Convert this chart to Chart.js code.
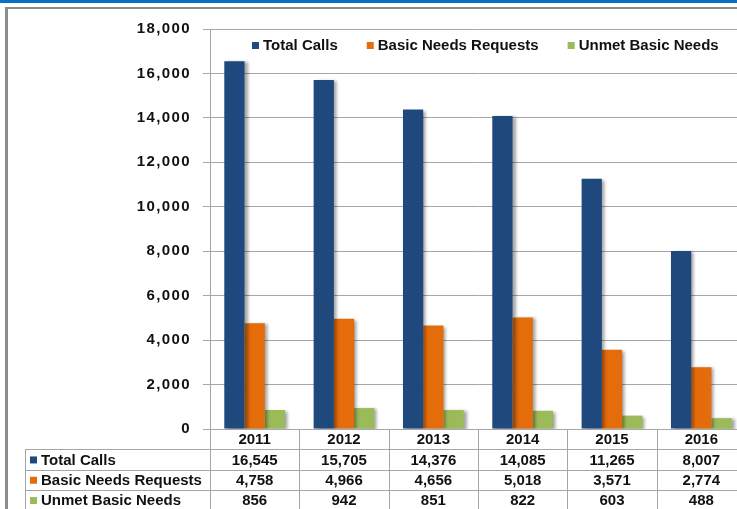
<!DOCTYPE html>
<html>
<head>
<meta charset="utf-8">
<script src="https://cdn.jsdelivr.net/npm/chart.js@4"></script>
<style>
  html, body { margin: 0; padding: 0; background: #fff; overflow: hidden; width: 737px; height: 509px; }
  #band { position: absolute; left: 0; top: 0; width: 737px; height: 3px; background: #0b6fc2; }
  #frame { position: absolute; left: 5px; top: 7px; width: 800px; height: 600px;
           border-left: 3px solid #8c8c8c; border-top: 2px solid #8c8c8c; }
  #wrap { position: absolute; left: 0; top: 0; }
</style>
</head>
<body>
<div id="band"></div>
<div id="frame"></div>
<div id="wrap"><canvas id="chart" width="760" height="509"></canvas></div>
<script>
const years = ['2011', '2012', '2013', '2014', '2015', '2016'];
const seriesNames = ['Total Calls', 'Basic Needs Requests', 'Unmet Basic Needs'];
const totalCalls = [16545, 15705, 14376, 14085, 11265, 8007];
const basicNeeds = [4758, 4966, 4656, 5018, 3571, 2774];
const unmetNeeds = [856, 942, 851, 822, 603, 488];
const seriesColors = ['#1f497d', '#e46c0a', '#9bbb59'];

const FONT = '"Liberation Sans", Arial, sans-serif';
const lineColor = '#a6a6a6';

var ctx = document.getElementById('chart').getContext('2d');

// legend + data table under the plot, placed from the x scale
const tablePlugin = {
  id: 'tablePlugin',
  beforeDraw: (chart) => {
    chart.ctx.letterSpacing = '1.4px';
  },
  beforeDatasetsDraw: (chart) => {
    const c = chart.ctx;
    c.letterSpacing = '0px';
    c.save();
    c.shadowColor = 'rgba(0,0,0,0.35)';
    c.shadowOffsetX = 3;
    c.shadowOffsetY = 1;
    c.shadowBlur = 3;
  },
  afterDatasetsDraw: (chart) => {
    chart.ctx.restore();
  },
  afterDraw: (chart) => {
    const c = chart.ctx;
    const x = chart.scales.x;
    const area = chart.chartArea;
    const sets = chart.data.datasets;
    c.save();
    c.letterSpacing = '0px';
    c.font = 'bold 15px ' + FONT;
    c.fillStyle = '#111';
    c.textBaseline = 'middle';

    // legend
    let lx = 252;
    const ly = 46;
    for (i = 0; i < sets.length; i++) {
      c.fillStyle = sets[i].backgroundColor;
      c.fillRect(lx, ly - 4, 7, 7);
      c.fillStyle = '#111';
      c.textAlign = 'left';
      c.fillText(sets[i].label, lx + 11, ly);
      lx += 11 + c.measureText(sets[i].label).width + 29;
    }

    // table
    const w = x.getPixelForValue(1) - x.getPixelForValue(0);
    const rowH = 20.3;
    const top = area.bottom;
    const labelLeft = 25;
    const colLeft = x.getPixelForValue(0) - w / 2;
    const colRight = x.getPixelForValue(years.length - 1) + w / 2;

    c.strokeStyle = lineColor;
    c.lineWidth = 1;
    c.beginPath();
    for (r = 1; r <= sets.length + 1; r++) {
      const yy = Math.round(top + r * rowH) + 0.5;
      c.moveTo(labelLeft, yy);
      c.lineTo(colRight, yy);
    }
    c.moveTo(labelLeft + 0.5, Math.round(top + rowH));
    c.lineTo(labelLeft + 0.5, top + (sets.length + 1) * rowH);
    for (i = 0; i <= years.length; i++) {
      const xx = Math.round(colLeft + i * w) + 0.5;
      c.moveTo(xx, top);
      c.lineTo(xx, top + (sets.length + 1) * rowH);
    }
    c.stroke();

    c.textAlign = 'center';
    for (i = 0; i < years.length; i++) {
      const cx = x.getPixelForValue(i);
      c.fillText(chart.data.labels[i], cx, top + rowH / 2 + 1);
      for (s = 0; s < sets.length; s++) {
        c.fillText(sets[s].data[i].toLocaleString('en-US'), cx, top + (s + 1.5) * rowH + 1);
      }
    }
    for (s = 0; s < sets.length; s++) {
      const yy = top + (s + 1.5) * rowH;
      c.fillStyle = sets[s].backgroundColor;
      c.fillRect(30, yy - 3, 7, 7);
      c.fillStyle = '#111';
      c.textAlign = 'left';
      c.fillText(sets[s].label, 41, yy + 1);
    }
    c.restore();
  }
};

var chart = new Chart(ctx, {
  type: 'bar',
  data: {
    labels: years,
    datasets: [
      { label: seriesNames[0], data: totalCalls, backgroundColor: seriesColors[0] },
      { label: seriesNames[1], data: basicNeeds, backgroundColor: seriesColors[1] },
      { label: seriesNames[2], data: unmetNeeds, backgroundColor: seriesColors[2] }
    ]
  },
  options: {
    responsive: false,
    animation: false,
    locale: 'en-US',
    layout: { padding: { left: 0, top: 29, right: 14, bottom: 80 } },
    datasets: { bar: { barPercentage: 1, categoryPercentage: 0.68 } },
    plugins: {
      legend: { display: false },
      tooltip: { enabled: false }
    },
    scales: {
      x: { display: false },
      y: {
        min: 0,
        max: 18000,
        afterFit: (scale) => { scale.width = 210; },
        ticks: {
          stepSize: 2000,
          padding: 12,
          color: '#111',
          font: { family: FONT, size: 15, weight: 'bold' }
        },
        grid: { color: lineColor, tickLength: 7 },
        border: { color: lineColor }
      }
    }
  },
  plugins: [tablePlugin]
});
</script>
</body>
</html>
